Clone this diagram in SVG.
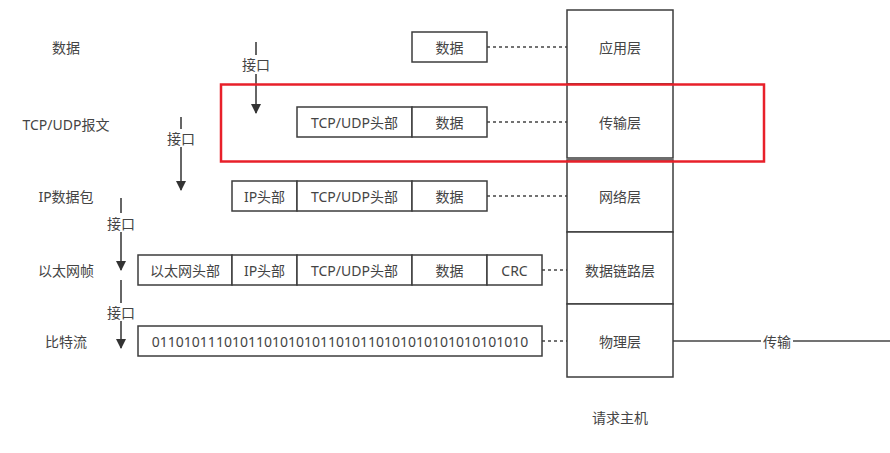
<svg xmlns="http://www.w3.org/2000/svg" width="890" height="453" viewBox="0 0 890 453">
<style>
text{font-family:"Noto Sans","Noto Sans CJK SC",sans-serif;font-size:14px;fill:#444;text-anchor:middle;dominant-baseline:central}
.b{fill:#fff;stroke:#3d3d3d;stroke-width:1.5}
.d{stroke:#444;stroke-width:1.5;stroke-dasharray:3 3;fill:none}
.a{stroke:#333;stroke-width:1.5;fill:none}
.s{stroke:#444;stroke-width:1.5;fill:none}
</style>
<defs>
<marker id="ah" markerWidth="10" markerHeight="14" refX="9" refY="5" orient="auto" markerUnits="userSpaceOnUse" viewBox="0 0 10 10">
<path d="M0,0 L10,5 L0,10 Z" fill="#333"/>
</marker>
</defs>
<rect width="890" height="453" fill="#fff"/>

<g id="labels">
<text x="66" y="47">数据</text>
<text x="66" y="124">TCP/UDP报文</text>
<text x="66" y="196">IP数据包</text>
<text x="66" y="270">以太网帧</text>
<text x="66" y="341">比特流</text>
</g>

<g id="connectors">
<line class="d" x1="487" y1="47" x2="567" y2="47"/>
<line class="d" x1="487" y1="122" x2="567" y2="122"/>
<line class="d" x1="487" y1="196" x2="567" y2="196"/>
<line class="d" x1="542" y1="270" x2="567" y2="270"/>
<line class="d" x1="542" y1="341" x2="567" y2="341"/>
<line class="s" x1="673" y1="341" x2="890" y2="341"/>
<line class="a" x1="256" y1="42" x2="256" y2="55"/>
<line class="a" x1="256" y1="74" x2="256" y2="113" marker-end="url(#ah)"/>
<line class="a" x1="181" y1="117" x2="181" y2="129"/>
<line class="a" x1="181" y1="147" x2="181" y2="190" marker-end="url(#ah)"/>
<line class="a" x1="121" y1="198" x2="121" y2="213"/>
<line class="a" x1="121" y1="232" x2="121" y2="270" marker-end="url(#ah)"/>
<line class="a" x1="121" y1="280" x2="121" y2="303"/>
<line class="a" x1="121" y1="321" x2="121" y2="348" marker-end="url(#ah)"/>
<text x="256" y="64">接口</text>
<text x="181" y="138">接口</text>
<text x="121" y="223">接口</text>
<text x="121" y="312">接口</text>
<rect x="761" y="331" width="32" height="20" fill="#fff"/>
<text x="777" y="341">传输</text>
</g>

<g id="row1">
<rect class="b" x="412" y="32" width="75" height="30"/>
<text x="449.5" y="47">数据</text>
</g>

<g id="row2">
<rect class="b" x="297" y="107" width="115" height="30"/>
<text x="354.5" y="122">TCP/UDP头部</text>
<rect class="b" x="412" y="107" width="75" height="30"/>
<text x="449.5" y="122">数据</text>
</g>

<g id="row3">
<rect class="b" x="232" y="181" width="65" height="30"/>
<text x="264.5" y="196">IP头部</text>
<rect class="b" x="297" y="181" width="115" height="30"/>
<text x="354.5" y="196">TCP/UDP头部</text>
<rect class="b" x="412" y="181" width="75" height="30"/>
<text x="449.5" y="196">数据</text>
</g>

<g id="row4">
<rect class="b" x="138" y="255" width="94" height="30"/>
<text x="185" y="270">以太网头部</text>
<rect class="b" x="232" y="255" width="65" height="30"/>
<text x="264.5" y="270">IP头部</text>
<rect class="b" x="297" y="255" width="115" height="30"/>
<text x="354.5" y="270">TCP/UDP头部</text>
<rect class="b" x="412" y="255" width="75" height="30"/>
<text x="449.5" y="270">数据</text>
<rect class="b" x="487" y="255" width="55" height="30"/>
<text x="514.5" y="270">CRC</text>
</g>

<g id="row5">
<rect class="b" x="138" y="326" width="404" height="30"/>
<text x="340" y="341">01101011101011010101011010110101010101010101010</text>
</g>

<g id="stack">
<rect class="b" x="567" y="10" width="106" height="74"/>
<text x="620" y="47">应用层</text>
<rect class="b" x="567" y="84" width="106" height="74"/>
<text x="620" y="122">传输层</text>
<rect class="b" x="567" y="160" width="106" height="72"/>
<text x="620" y="196">网络层</text>
<rect class="b" x="567" y="232" width="106" height="72"/>
<text x="620" y="270">数据链路层</text>
<rect class="b" x="567" y="304" width="106" height="73"/>
<text x="620" y="341">物理层</text>
<text x="620" y="417">请求主机</text>
</g>

<g id="highlight">
<rect x="221" y="84.5" width="543" height="77" fill="none" stroke="#e8202a" stroke-width="2.5"/>
</g>
</svg>
